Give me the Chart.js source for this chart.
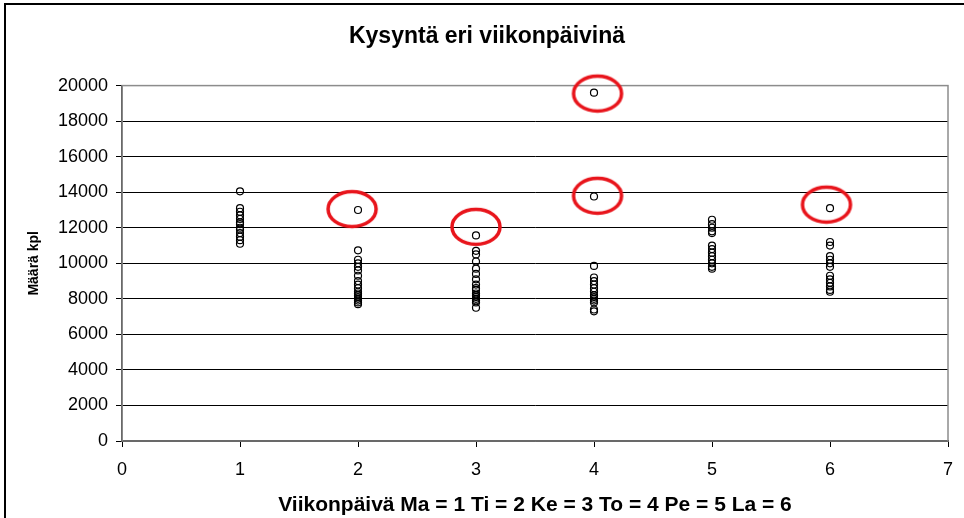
<!DOCTYPE html>
<html>
<head>
<meta charset="utf-8">
<script src="https://cdn.jsdelivr.net/npm/chart.js@4.4.1/dist/chart.umd.min.js"></script>
<style>
  html, body { margin: 0; padding: 0; background: #fff; overflow: hidden; }
  #wrap { position: relative; width: 964px; height: 518px; overflow: hidden; }
  #frame { position: absolute; left: 4px; top: 3px; width: 970px; height: 530px;
           border-left: 2px solid #000; border-top: 2px solid #000; pointer-events: none; }
</style>
</head>
<body>
<div id="wrap">
  <canvas id="chart" width="964" height="518"></canvas>
  <div id="frame"></div>
</div>
<script>
// kysyntä (kpl) per viikonpäivä
const maanantai = [14050, 13100, 12900, 12700, 12500, 12300, 12200, 12000, 11900, 11700, 11500, 11300, 11100];
const tiistai = [13000, 10730, 10200, 10000, 9800, 9600, 9300, 9000, 8800, 8600, 8400, 8300, 8200, 8100, 8000, 7900, 7800, 7700];
const keskiviikko = [11570, 10700, 10500, 10100, 9700, 9400, 9100, 8800, 8600, 8500, 8300, 8200, 8100, 8000, 7900, 7800, 7500];
const torstai = [19600, 13760, 9850, 9200, 9000, 8800, 8600, 8400, 8200, 8100, 8000, 7900, 7800, 7400, 7300];
const perjantai = [12450, 12200, 12000, 11800, 11700, 11000, 10800, 10600, 10400, 10200, 10000, 9800, 9700];
const lauantai = [13100, 11200, 11000, 10400, 10200, 10000, 9800, 9300, 9100, 8900, 8700, 8500, 8400];

// poikkeavat havainnot (punaiset ympyrät)
const poikkeamaPaivat = [1.95, 3, 4.03, 4.03, 5.97];
const poikkeamaArvot = [13050, 12050, 19550, 13800, 13300];

const yTicks = [0, 2000, 4000, 6000, 8000, 10000, 12000, 14000, 16000, 18000, 20000];
const xTicks = [0, 1, 2, 3, 4, 5, 6, 7];

const days = [maanantai, tiistai, keskiviikko, torstai, perjantai, lauantai];
const points = [];
days.forEach((vals, i) => {
  vals.forEach(v => points.push({ x: i + 1, y: v }));
});

// red ellipse used as point style for the highlight markers
function ellipseStyle() {
  const c = document.createElement('canvas');
  c.width = 56; c.height = 42;
  const g = c.getContext('2d');
  g.strokeStyle = '#e8141b';
  g.lineWidth = 3.5;
  g.beginPath();
  g.ellipse(28, 21, 24, 17.5, 0, 0, Math.PI * 2);
  g.stroke();
  return c;
}

const plotFrame = {
  id: 'plotFrame',
  beforeDatasetsDraw(chart) {
    const a = chart.chartArea;
    const ctx = chart.ctx;
    ctx.save();
    ctx.strokeStyle = '#8c8c8c';
    ctx.lineWidth = 1.5;
    ctx.strokeRect(a.left, a.top, a.right - a.left, a.bottom - a.top);
    ctx.restore();
  }
};

const font = 'Liberation Sans, Arial';

new Chart(document.getElementById('chart'), {
  type: 'scatter',
  data: {
    datasets: [
      {
        label: 'Kysyntä',
        data: points,
        pointStyle: 'circle',
        pointRadius: 3.5,
        pointBorderColor: '#000',
        pointBackgroundColor: 'rgba(255,255,255,0)',
        pointBorderWidth: 1.2
      },
      {
        label: 'Poikkeamat',
        data: poikkeamaPaivat.map((d, i) => ({ x: d, y: poikkeamaArvot[i] })),
        pointStyle: ellipseStyle(),
        pointRadius: 20,
        clip: false
      }
    ]
  },
  options: {
    responsive: false,
    animation: false,
    layout: { autoPadding: false, padding: { left: 26, right: 16, top: 0, bottom: 0 } },
    plugins: {
      legend: { display: false },
      tooltip: { enabled: false },
      title: {
        display: true,
        text: 'Kysyntä eri viikonpäivinä',
        color: '#000',
        font: { family: font, size: 23, weight: 'bold' },
        padding: { top: 23, bottom: 35 }
      }
    },
    scales: {
      x: {
        type: 'linear',
        min: 0,
        max: 7,
        afterBuildTicks: s => { s.ticks = xTicks.map(v => ({ value: v })); },
        afterFit: s => { s.height = 77; s.paddingRight = 0; s.paddingLeft = 0; },
        grid: { drawOnChartArea: false, drawTicks: true, tickLength: 6, color: '#000' },
        border: { color: '#000', width: 1.5 },
        ticks: { color: '#000', padding: 12, font: { family: font, size: 18 }, callback: v => String(v) },
        title: {
          display: true,
          text: 'Viikonpäivä Ma = 1 Ti = 2 Ke = 3 To = 4 Pe = 5 La = 6',
          color: '#000',
          font: { family: font, size: 21, weight: 'bold' },
          padding: { top: 11, bottom: 0 }
        }
      },
      y: {
        min: 0,
        max: 20000,
        afterBuildTicks: s => { s.ticks = yTicks.map(v => ({ value: v })); },
        afterFit: s => { s.width = 96; },
        grid: { color: '#000', lineWidth: 1, tickLength: 6 },
        border: { color: '#000', width: 1.5 },
        ticks: { color: '#000', padding: 8, font: { family: font, size: 18 }, callback: v => String(v) },
        title: {
          display: true,
          text: 'Määrä kpl',
          color: '#000',
          font: { family: font, size: 14, weight: 'bold' },
          padding: { top: 0, bottom: 0 }
        }
      }
    }
  },
  plugins: [plotFrame]
});
</script>
</body>
</html>
